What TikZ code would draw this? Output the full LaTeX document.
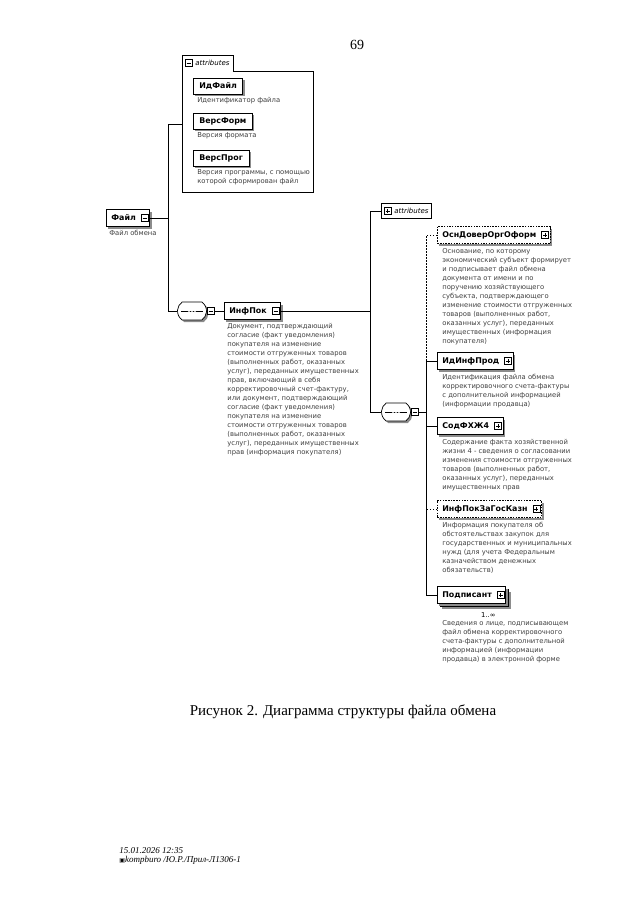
\documentclass[tikz,border=0pt]{standalone}
\usepackage{fontspec}
\setmainfont{Liberation Serif}
\newfontfamily\xsdfont{DejaVu Sans}
\usetikzlibrary{positioning, shapes.misc, shadows}

\newcommand{\elemfont}{\xsdfont\bfseries\fontsize{7.9}{9}\selectfont}
\newcommand{\descfont}{\xsdfont\fontsize{6.8}{9}\selectfont}
\newcommand{\tabfont}{\xsdfont\itshape\fontsize{7}{8}\selectfont}

\begin{document}
\begin{tikzpicture}[
    x=1pt, y=-1pt,
    line width=0.7pt,
    shadowed/.style={
        drop shadow={shadow xshift=2pt, shadow yshift=-2pt, fill=black!45, opacity=1}
    },
    elem/.style={
        draw,
        fill=white,
        shadowed,
        font=\elemfont,
        minimum height=17pt,
        inner xsep=5pt,
        inner ysep=0pt,
        execute at end node={\hspace*{9pt}}
    },
    optelem/.style={elem, dash pattern=on 1.5pt off 1.2pt},
    attelem/.style={
        draw,
        fill=white,
        shadowed,
        font=\elemfont,
        minimum height=16pt,
        inner xsep=6pt,
        inner ysep=0pt
    },
    desc/.style={font=\descfont, text=black!75, align=left, inner sep=0pt},
    attrtab/.style={
        font=\tabfont,
        minimum height=15pt,
        inner ysep=0pt,
        inner xsep=3pt,
        execute at begin node={\hspace*{10pt}}
    },
    expsign/.style={draw, fill=white, minimum size=7pt, inner sep=0pt, line width=0.6pt},
    expminus/.style={
        expsign,
        path picture={\draw[line width=0.6pt]
            ([xshift=1.5pt]path picture bounding box.west) -- ([xshift=-1.5pt]path picture bounding box.east);}
    },
    expplus/.style={
        expsign,
        path picture={\draw[line width=0.6pt]
            ([xshift=1.5pt]path picture bounding box.west) -- ([xshift=-1.5pt]path picture bounding box.east)
            ([yshift=-1.5pt]path picture bounding box.north) -- ([yshift=1.5pt]path picture bounding box.south);}
    },
    seqbox/.style={
        rounded rectangle,
        rounded rectangle arc length=110,
        draw,
        fill=white,
        shadowed,
        minimum width=29pt,
        minimum height=18pt,
        inner sep=0pt,
        path picture={
            \draw[line width=0.8pt] ([xshift=4pt]path picture bounding box.west) -- ([xshift=-4pt]path picture bounding box.east);
            \fill ([xshift=-3pt]path picture bounding box.center) circle (1.1pt)
                  (path picture bounding box.center) circle (1.1pt)
                  ([xshift=3pt]path picture bounding box.center) circle (1.1pt);
        }
    },
    optline/.style={dash pattern=on 1.5pt off 1.5pt}
]

\useasboundingbox (0,0) rectangle (640,905);

\node[font=\fontsize{14}{16}\selectfont] (pagenum) at (357,45) {69};

% root element
\node[elem, anchor=west] (file) at (106,218) {Файл};
\node[expminus] (fileexp) at ([xshift=-5.5pt]file.east) {};
\node[desc, below right=3pt and 3pt of file.south west] (filedesc) {Файл обмена};

% attributes of the root
\node[anchor=north west, minimum width=131pt, minimum height=121pt, inner sep=0pt, fill=white] (fattrbox) at (182,71) {};
\node[attrtab, anchor=south west] (fattrtab) at (fattrbox.north west) {attributes};
\draw (fattrtab.south east) -| (fattrbox.south east) -| (fattrtab.north west) -| (fattrtab.south east);
\node[expminus] (fattrexp) at ([xshift=6.5pt]fattrtab.west) {};

\node[attelem, anchor=west] (idfile) at (193,86) {ИдФайл};
\node[desc, below right=3pt and 4pt of idfile.south west] (idfiledesc) {Идентификатор файла};
\node[attelem, anchor=west] (verform) at (193,121) {ВерсФорм};
\node[desc, below right=3pt and 4pt of verform.south west] (verformdesc) {Версия формата};
\node[attelem, anchor=west] (verprog) at (193,158) {ВерсПрог};
\node[desc, below right=3pt and 4pt of verprog.south west] (verprogdesc) {Версия программы, с помощью\\которой сформирован файл};

% first sequence and ИнфПок
\node[seqbox] (seq1) at (192,311) {};
\node[expminus, right=0pt of seq1] (seq1exp) {};
\node[elem, anchor=west] (infpok) at (224,311) {ИнфПок};
\node[expminus] (infexp) at ([xshift=-5.5pt]infpok.east) {};
\node[desc, below right=3pt and 3pt of infpok.south west] (infpokdesc) {Документ, подтверждающий\\согласие (факт уведомления)\\покупателя на изменение\\стоимости отгруженных товаров\\(выполненных работ, оказанных\\услуг), переданных имущественных\\прав, включающий в себя\\корректировочный счет-фактуру,\\или документ, подтверждающий\\согласие (факт уведомления)\\покупателя на изменение\\стоимости отгруженных товаров\\(выполненных работ, оказанных\\услуг), переданных имущественных\\прав (информация покупателя)};

% children of ИнфПок
\node[attrtab, draw, fill=white, anchor=west] (rattrtab) at (381,211) {attributes};
\node[expplus] (rattrexp) at ([xshift=6.5pt]rattrtab.west) {};
\node[seqbox] (seq2) at (396,412) {};
\node[expminus, right=0pt of seq2] (seq2exp) {};

\node[optelem, anchor=west] (osn) at (437,235) {ОснДоверОргОформ};
\node[expplus] (osnexp) at ([xshift=-5.5pt]osn.east) {};
\node[desc, below right=4pt and 5pt of osn.south west] (osndesc) {Основание, по которому\\экономический субъект формирует\\и подписывает файл обмена\\документа от имени и по\\поручению хозяйствующего\\субъекта, подтверждающего\\изменение стоимости отгруженных\\товаров (выполненных работ,\\оказанных услуг), переданных\\имущественных (информация\\покупателя)};

\node[elem, anchor=west] (idinf) at (437,361) {ИдИнфПрод};
\node[expplus] (idinfexp) at ([xshift=-5.5pt]idinf.east) {};
\node[desc, below right=4pt and 5pt of idinf.south west] (idinfdesc) {Идентификация файла обмена\\корректировочного счета-фактуры\\с дополнительной информацией\\(информации продавца)};

\node[elem, anchor=west] (sod) at (437,426) {СодФХЖ4};
\node[expplus] (sodexp) at ([xshift=-5.5pt]sod.east) {};
\node[desc, below right=4pt and 5pt of sod.south west] (soddesc) {Содержание факта хозяйственной\\жизни 4 - сведения о согласовании\\изменения стоимости отгруженных\\товаров (выполненных работ,\\оказанных услуг), переданных\\имущественных прав};

\node[optelem, anchor=west] (gos) at (437,509) {ИнфПокЗаГосКазн};
\node[expplus] (gosexp) at ([xshift=-5.5pt]gos.east) {};
\node[desc, below right=4pt and 5pt of gos.south west] (gosdesc) {Информация покупателя об\\обстоятельствах закупок для\\государственных и муниципальных\\нужд (для учета Федеральным\\казначейством денежных\\обязательств)};

\node[elem, anchor=west] (signerback) at (440,598) {\phantom{Подписант}};
\node[elem, anchor=west] (signer) at (437,595) {Подписант};
\node[expplus] (signerexp) at ([xshift=-5.5pt]signer.east) {};
\node[font=\descfont, below left=2pt and 10pt of signerback.south east] (signermult) {1..∞};
\node[desc, below right=16pt and 5pt of signer.south west] (signerdesc) {Сведения о лице, подписывающем\\файл обмена корректировочного\\счета-фактуры с дополнительной\\информацией (информации\\продавца) в электронной форме};

% connectors
\coordinate (fspine) at (168,218);
\coordinate (fattrin) at (182,124);
\draw (fileexp.east) -- (fspine);
\draw (fspine) |- (fattrin);
\draw (fspine) |- (seq1.west);
\draw (seq1exp.east) -- (infpok.west);

\coordinate (ispine) at (370,311);
\draw (infexp.east) -- (ispine);
\draw (ispine) |- (rattrtab.west);
\draw (ispine) |- (seq2.west);

\coordinate (cspine) at (426,412);
\draw (seq2exp.east) -- (cspine);
\draw[optline] (osn.west) -| (idinf.west -| cspine);
\draw (idinf.west) -| (cspine);
\draw (cspine) |- (signer.west);
\draw (sod.west) -- (sod.west -| cspine);
\draw[optline] (gos.west) -- (gos.west -| cspine);

\node[font=\fontsize{15}{18}\selectfont] (caption) at (343,712) {Рисунок 2. Диаграмма структуры файла обмена};
\node[font=\itshape\fontsize{9}{9.5}\selectfont, align=left, anchor=north west, inner sep=0pt] (stamp) at (119,847) {15.01.2026 12:35\\{\xsdfont\upshape\fontsize{6}{6}\selectfont ▣}kompburo /Ю.Р./Прил-Л1306-1};

\end{tikzpicture}
\end{document}
